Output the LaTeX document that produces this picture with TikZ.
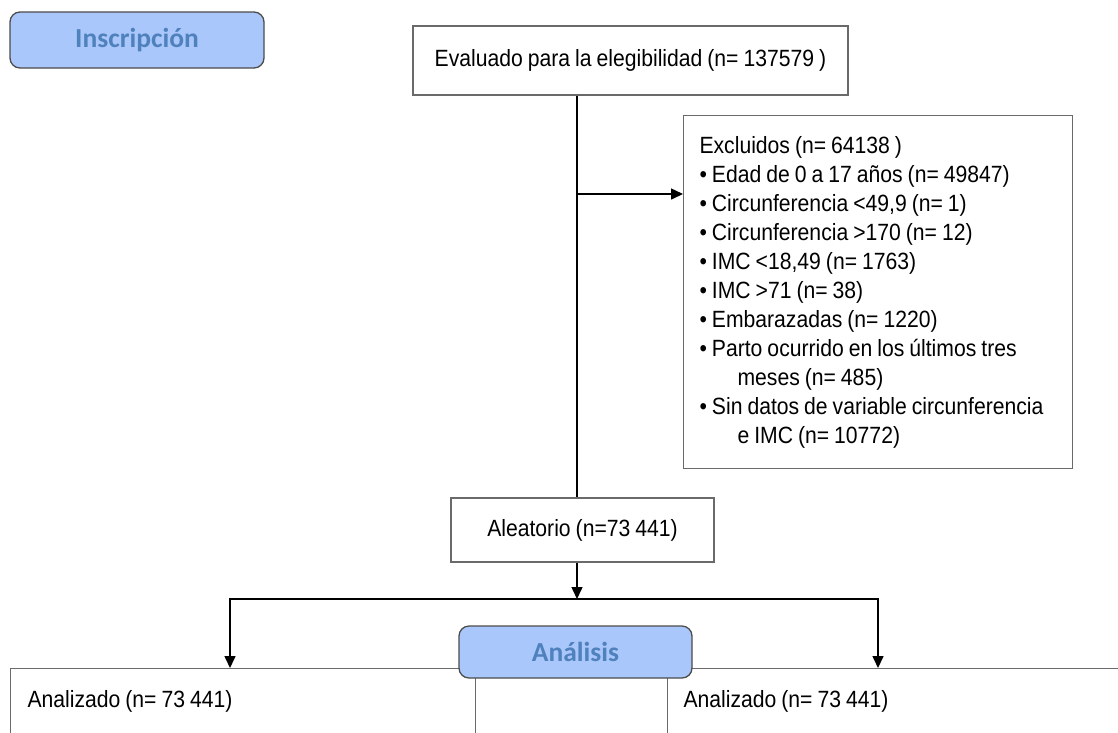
\documentclass[tikz,border=0pt]{standalone}
\usepackage{fontspec}
\setmainfont{Liberation Sans}[FakeStretch=0.9, WordSpace=0.85]
\newfontfamily\badgefont{Carlito}
\usetikzlibrary{scopes,arrows.meta}
\definecolor{badgefill}{HTML}{A9C7FA}
\definecolor{badgetext}{HTML}{4F81BD}
\definecolor{edge}{HTML}{6A6A6A}
\tikzset{
  box/.style={draw=edge, line width=1.1pt, fill=white, inner sep=0pt,
    font=\fontsize{23.5}{29}\selectfont},
  badge/.style={draw=black!70, line width=1.3pt, fill=badgefill, rounded corners=10pt,
    text=badgetext, font=\badgefont\bfseries\fontsize{27.5}{30}\selectfont},
  conn/.style={draw=black, line width=1.5pt, >={Triangle[length=12pt,width=11pt]}}
}
\begin{document}
\begin{tikzpicture}[x=1pt, y=-1pt]
  \clip (0,0) rectangle (1118,732);
  \fill[white] (0,0) rectangle (1118,732);
  \node[badge, minimum width=254, minimum height=56] (insc) at (137,40) {Inscripción};
  \node[box, minimum width=435, minimum height=69] (eval) at (630.5,60.5)
    {Evaluado para la elegibilidad (n= 137579 )};
  \node[box, anchor=north west, minimum width=389, minimum height=353,
    text width=357, inner xsep=16pt, align=flush left] (excl) at (683,115)
    {Excluidos (n= 64138 )\\
     • Edad de 0 a 17 años (n= 49847)\\
     • Circunferencia <49,9 (n= 1)\\
     • Circunferencia >170 (n= 12)\\
     • IMC <18,49 (n= 1763)\\
     • IMC >71 (n= 38)\\
     • Embarazadas (n= 1220)\\
     • Parto ocurrido en los últimos tres\\
     \hspace*{38pt}meses (n= 485)\\
     • Sin datos de variable circunferencia\\
     \hspace*{38pt}e IMC (n= 10772)};
  \node[box, minimum width=263, minimum height=64] (aleat) at (582.5,530)
    {Aleatorio (n=73 441)};
  \coordinate (brk) at (577,194);
  \coordinate (fork) at (577,599);
  \node[box, anchor=north west, minimum width=465, minimum height=66,
    text width=431, inner xsep=17pt, align=flush left] (izq) at (10,668)
    {Analizado (n= 73 441)};
  \node[box, anchor=north west, minimum width=470, minimum height=66,
    text width=438, inner xsep=16pt, align=flush left] (der) at (667,668)
    {Analizado (n= 73 441)};
  \node[badge, minimum width=233, minimum height=52] (anal) at (575.5,652) {Análisis};
  { [conn]
    \draw (eval.south -| brk) -- (aleat.north -| brk);
    \draw[->] (brk) -- (brk -| excl.west);
    \draw[->] (aleat.south -| fork) -- (fork);
    \draw[->] (fork) -| ([xshift=220]izq.north west);
    \draw[->] (fork) -| ([xshift=211]der.north west);
  }
\end{tikzpicture}
\end{document}
